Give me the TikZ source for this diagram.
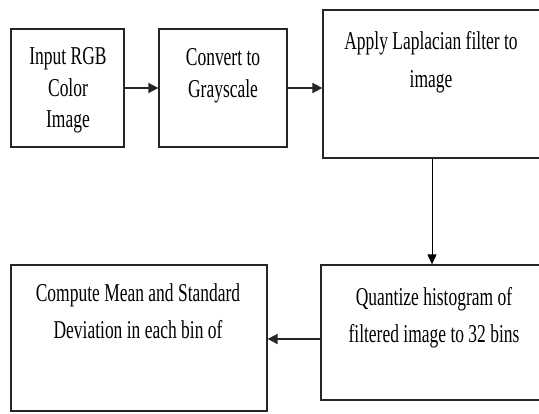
\documentclass[tikz,border=0pt]{standalone}
\usepackage{fontspec}
\setmainfont{Liberation Serif}
\usetikzlibrary{arrows.meta}
\newcommand{\sq}[1]{\scalebox{0.68}[1]{#1}}
\begin{document}
\begin{tikzpicture}[x=1pt,y=-1pt,
  box/.style={draw=black!85,line width=1.3pt,fill=white,inner sep=0pt},
  txt/.style={anchor=base,inner sep=0pt,font=\fontsize{25.7}{31}\selectfont},
  conn/.style={draw=black!85,line width=1.8pt,-{Triangle[length=10pt,width=10pt]}},
  connthin/.style={draw=black,line width=1pt,-{Triangle[length=10pt,width=9pt]}}]
\useasboundingbox[fill=white] (0,0) rectangle (539,413);
\clip (0,0) rectangle (539,413);
% boxes
\node[box,minimum width=113pt,minimum height=118pt] (b1) at (67.5,88) {};
\node[box,minimum width=128pt,minimum height=118pt] (b2) at (223,88) {};
\node[box,minimum width=222pt,minimum height=148pt] (b3) at (434,84) {};
\node[box,minimum width=256pt,minimum height=146pt] (b4) at (139,338) {};
\node[box,minimum width=224pt,minimum height=135pt] (b5) at (433,332.5) {};
% texts
\node[txt] (t1a) at (68,64) {\sq{Input RGB}};
\node[txt] (t1b) at (68,96) {\sq{Color}};
\node[txt] (t1c) at (68,127) {\sq{Image}};
\node[txt] (t2a) at (223,65) {\sq{Convert to}};
\node[txt] (t2b) at (223,97) {\sq{Grayscale}};
\node[txt] (t3a) at (431,49) {\sq{Apply Laplacian filter to}};
\node[txt] (t3b) at (431,87) {\sq{image}};
\node[txt] (t4a) at (138,301) {\sq{Compute Mean and Standard}};
\node[txt] (t4b) at (138,338) {\sq{Deviation in each bin of}};
\node[txt] (t5a) at (434,305) {\sq{Quantize histogram of}};
\node[txt] (t5b) at (434,342) {\sq{filtered image to 32 bins}};
% connectors
\draw[conn] (b1.east |- 0,88) -- (b2.west |- 0,88);
\draw[conn] (b2.east |- 0,88) -- (b3.west |- 0,88);
\draw[connthin] (b3.south -| 432,0) -- (b5.north -| 432,0);
\draw[conn] (b5.west |- 0,339) -- (b4.east |- 0,339);
\end{tikzpicture}
\end{document}
